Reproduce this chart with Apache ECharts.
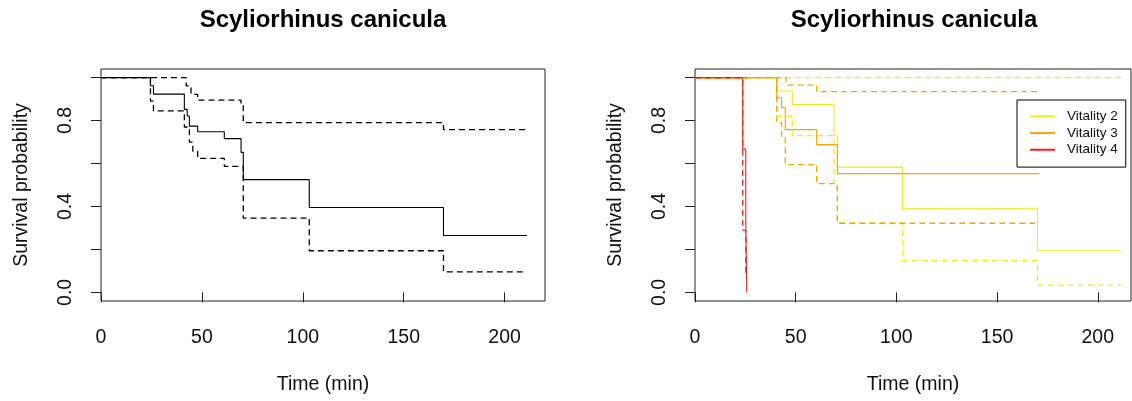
<!DOCTYPE html>
<html>
<head>
<meta charset="utf-8">
<script src="https://cdn.jsdelivr.net/npm/echarts@6/dist/echarts.min.js"></script>
<style>
html,body{margin:0;padding:0;background:#fff;}
#chart{width:1132px;height:401px;}
</style>
</head>
<body>
<div id="chart"></div>
<script>
// ---- data ----
const titleText = 'Scyliorhinus canicula';
const xTicks = [0, 50, 100, 150, 200];
const yTicks = [0, 0.2, 0.4, 0.6, 0.8, 1.0];
const yLabels = [0, 0.4, 0.8];

// Left panel: overall Kaplan-Meier curve with confidence band
const allTime  = [0, 24.5, 26, 41.3, 42.7, 43.8, 47.9, 61.1, 69.4, 70.5, 103.2, 169.7, 211];
const allSurv  = [1, 0.962, 0.923, 0.852, 0.821, 0.774, 0.748, 0.716, 0.652, 0.525, 0.395, 0.265, 0.265];
const allUpTime = [0, 42.2, 44.6, 47.9, 69.4, 70.5, 169.7, 211];
const allUpper  = [1, 0.961, 0.922, 0.895, 0.878, 0.79, 0.758, 0.758];
const allLoTime = [0, 24.5, 26, 41.3, 43.8, 45.5, 47.9, 61.1, 70.5, 103.2, 169.7, 211];
const allLower  = [1, 0.89, 0.845, 0.77, 0.70, 0.657, 0.624, 0.587, 0.346, 0.194, 0.096, 0.096];

// Right panel: by vitality
const v2Time  = [0, 40.6, 48.3, 69.0, 70.7, 103.1, 170.1, 211.5];
const v2Surv  = [1, 0.9375, 0.875, 0.729, 0.583, 0.389, 0.194, 0.194];
const v2UpTime = [0, 211.5];
const v2Upper  = [1, 1];
const v2LoTime = [0, 40.6, 48.3, 69.0, 70.7, 103.1, 170.1, 211.5];
const v2Lower  = [1, 0.82, 0.73, 0.506, 0.322, 0.148, 0.034, 0.034];

const v3Time  = [0, 40.6, 43.0, 44.8, 60.4, 70.7, 171];
const v3Surv  = [1, 0.906, 0.86, 0.758, 0.688, 0.553, 0.553];
const v3UpTime = [0, 45.2, 60.4, 171];
const v3Upper  = [1, 0.965, 0.935, 0.935];
const v3LoTime = [0, 40.6, 43.0, 44.8, 60.4, 70.7, 171];
const v3Lower  = [1, 0.79, 0.72, 0.595, 0.506, 0.322, 0.322];

const v4Time  = [0, 23.7, 25.2, 25.7];
const v4Surv  = [1, 0.667, 0.333, 0];
const v4UpTime = [0, 25.5];
const v4Upper  = [1, 1];
const v4LoTime = [0, 23.7, 25.2, 25.5];
const v4Lower  = [1, 0.29, 0.09, 0.09];

const legendNames = ['Vitality 2', 'Vitality 3', 'Vitality 4'];
const colors = {black: '#000000', v2: '#f0ec10', v3: '#ffa200', v4: '#ff1a1a'};

// ---- build ----
function pairs(t, s) { return t.map((x, i) => [x, s[i]]); }
const FONT = '"Liberation Sans", Arial, sans-serif';
const DASH = [6, 4];
const FS = 19.5;

function stepSeries(name, t, s, color, dashed, idx) {
  return {
    name: name, type: 'line', step: 'end',
    xAxisIndex: idx, yAxisIndex: idx,
    data: pairs(t, s), symbol: 'none', silent: true,
    animation: false,
    lineStyle: {color: color, width: dashed ? 1.3 : 1.1, type: dashed ? DASH : 'solid'},
    itemStyle: {color: color}
  };
}

function xAxisDef(idx, max) {
  return {
    type: 'value', gridIndex: idx, min: 0, max: max,
    axisLine: {show: false},
    splitLine: {show: false},
    axisTick: {show: true, inside: false, length: 10, customValues: xTicks,
               lineStyle: {color: '#222', width: 1}},
    axisLabel: {customValues: xTicks, margin: 27, color: '#111',
                fontSize: FS, fontFamily: FONT},
    name: 'Time (min)', nameLocation: 'middle', nameGap: 74,
    nameTextStyle: {fontSize: FS, fontFamily: FONT, color: '#111'}
  };
}
function yAxisDef(idx) {
  return {
    type: 'value', gridIndex: idx, min: -0.04, max: 1.04,
    axisLine: {show: false},
    splitLine: {show: false},
    axisTick: {show: true, inside: false, length: 10, customValues: yTicks,
               lineStyle: {color: '#222', width: 1}},
    axisLabel: {customValues: yLabels, rotate: 90, margin: 25, color: '#111',
                fontSize: FS, fontFamily: FONT,
                formatter: v => Number(v).toFixed(1)},
    name: 'Survival probability', nameLocation: 'middle', nameGap: 69,
    nameTextStyle: {fontSize: FS, fontFamily: FONT, color: '#111'}
  };
}

const series = [
  stepSeries('all', allTime, allSurv, colors.black, false, 0),
  stepSeries('all upper', allUpTime, allUpper, colors.black, true, 0),
  stepSeries('all lower', allLoTime, allLower, colors.black, true, 0),
  stepSeries('Vitality 2', v2Time, v2Surv, colors.v2, false, 1),
  stepSeries('Vitality 2 upper', v2UpTime, v2Upper, colors.v2, true, 1),
  stepSeries('Vitality 2 lower', v2LoTime, v2Lower, colors.v2, true, 1),
  stepSeries('Vitality 3', v3Time, v3Surv, colors.v3, false, 1),
  stepSeries('Vitality 3 upper', v3UpTime, v3Upper, colors.v3, true, 1),
  stepSeries('Vitality 3 lower', v3LoTime, v3Lower, colors.v3, true, 1),
  stepSeries('Vitality 4', v4Time, v4Surv, colors.v4, false, 1),
  stepSeries('Vitality 4 upper', v4UpTime, v4Upper, colors.v4, true, 1),
  stepSeries('Vitality 4 lower', v4LoTime, v4Lower, colors.v4, true, 1)
];

const chart = echarts.init(document.getElementById('chart'), null, {renderer: 'canvas'});
chart.setOption({
  animation: false,
  backgroundColor: '#ffffff',
  title: [
    {text: titleText, left: 323, top: 8, textAlign: 'center', padding: 0,
     textStyle: {fontSize: 24, fontWeight: 'bold', fontFamily: FONT, color: '#000'}},
    {text: titleText, left: 914, top: 8, textAlign: 'center', padding: 0,
     textStyle: {fontSize: 24, fontWeight: 'bold', fontFamily: FONT, color: '#000'}}
  ],
  grid: [
    {left: 101, top: 69, width: 444, height: 232, show: true,
     borderColor: '#222', borderWidth: 1, backgroundColor: 'transparent'},
    {left: 695, top: 69, width: 436, height: 232, show: true,
     borderColor: '#222', borderWidth: 1, backgroundColor: 'transparent'}
  ],
  xAxis: [xAxisDef(0, 220), xAxisDef(1, 216.5)],
  yAxis: [yAxisDef(0), yAxisDef(1)],
  legend: {
    data: legendNames, orient: 'vertical', left: 1017, top: 100,
    padding: [8, 8, 9, 13], itemGap: 0, itemWidth: 25, itemHeight: 2,
    icon: 'rect',
    borderColor: '#000', borderWidth: 1, backgroundColor: '#fff',
    selectedMode: false,
    textStyle: {fontSize: 13.5, lineHeight: 16.7, fontFamily: FONT, color: '#111',
                padding: [0, 0, 0, 7]}
  },
  series: series
});
</script>
</body>
</html>
